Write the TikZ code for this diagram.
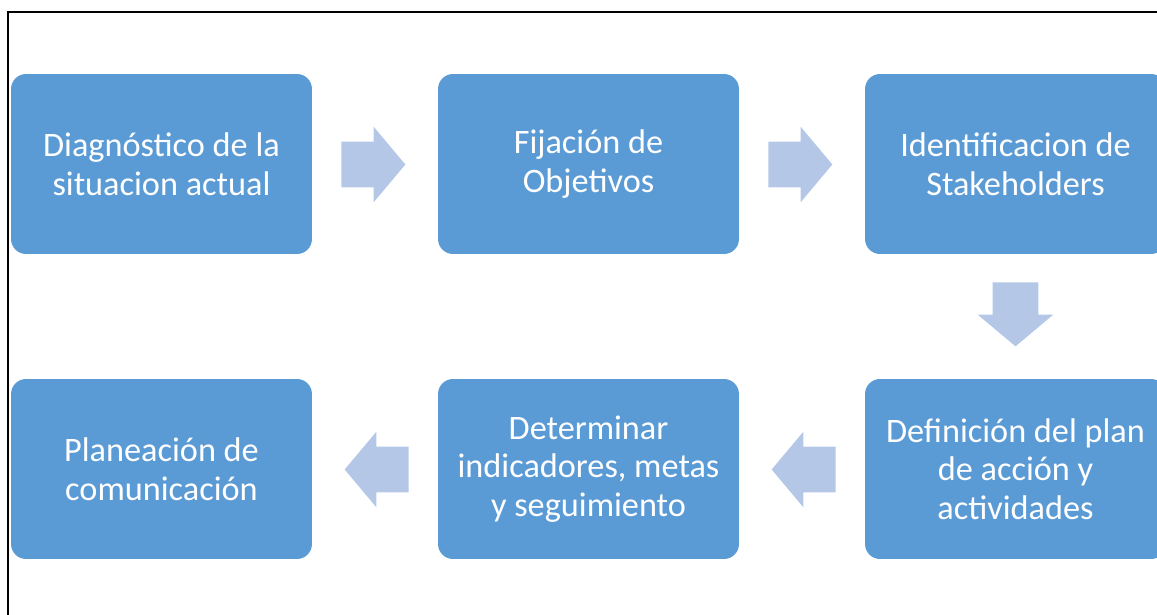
\documentclass[tikz,border=0pt]{standalone}
\usepackage{fontspec}
\setmainfont{Carlito}
\usepackage{xcolor}
\usepackage{tikz}
\usetikzlibrary{shapes,shapes.arrows,positioning,calc}

\definecolor{boxblue}{HTML}{5B9BD5}
\definecolor{arrowblue}{HTML}{B4C7E7}

\tikzset{
    stage/.style={fill=boxblue, rounded corners=0.3cm, minimum width=6.02cm, minimum height=3.6cm,
        text=white, align=center, font=\fontsize{19.5}{22}\selectfont, inner sep=0pt},
    flow/.style={single arrow, fill=arrowblue, inner xsep=0pt, inner ysep=0.45cm, minimum height=1.28cm,
        single arrow head extend=0.3cm, single arrow tip angle=100, anchor=tail}
}

\begin{document}
\begin{tikzpicture}[x=0.02cm, y=-0.02cm]
    \useasboundingbox (0,0) rectangle (1157,615);
    % frame
    \draw[line width=0.9pt] (8,640) -- (8,12) -- (1180,12);

    % top row
    \node[stage] (st1) at (161.5,164) {Diagnóstico de la\\situacion actual};
    \node[stage] (st2) at (588.5,164) {Fijación de\\Objetivos};
    \node[stage] (st3) at (1015.5,164) {Identificacion de\\Stakeholders};
    % bottom row
    \node[stage] (st4) at (1015.5,469) {Definición del plan\\de acción y\\actividades};
    \node[stage] (st5) at (588.5,469) {Determinar\\indicadores, metas\\y seguimiento};
    \node[stage] (st6) at (161.5,469) {Planeación de\\comunicación};

    % arrows between stages
    \node[flow] (ar1) at (341,164.5) {};
    \node[flow] (ar2) at (768,164.5) {};
    \node[flow, rotate=270] (ar3) at (1015.5,282) {};
    \node[flow, rotate=180] (ar4) at (836,469.5) {};
    \node[flow, rotate=180] (ar5) at (409,469.5) {};
\end{tikzpicture}
\end{document}
